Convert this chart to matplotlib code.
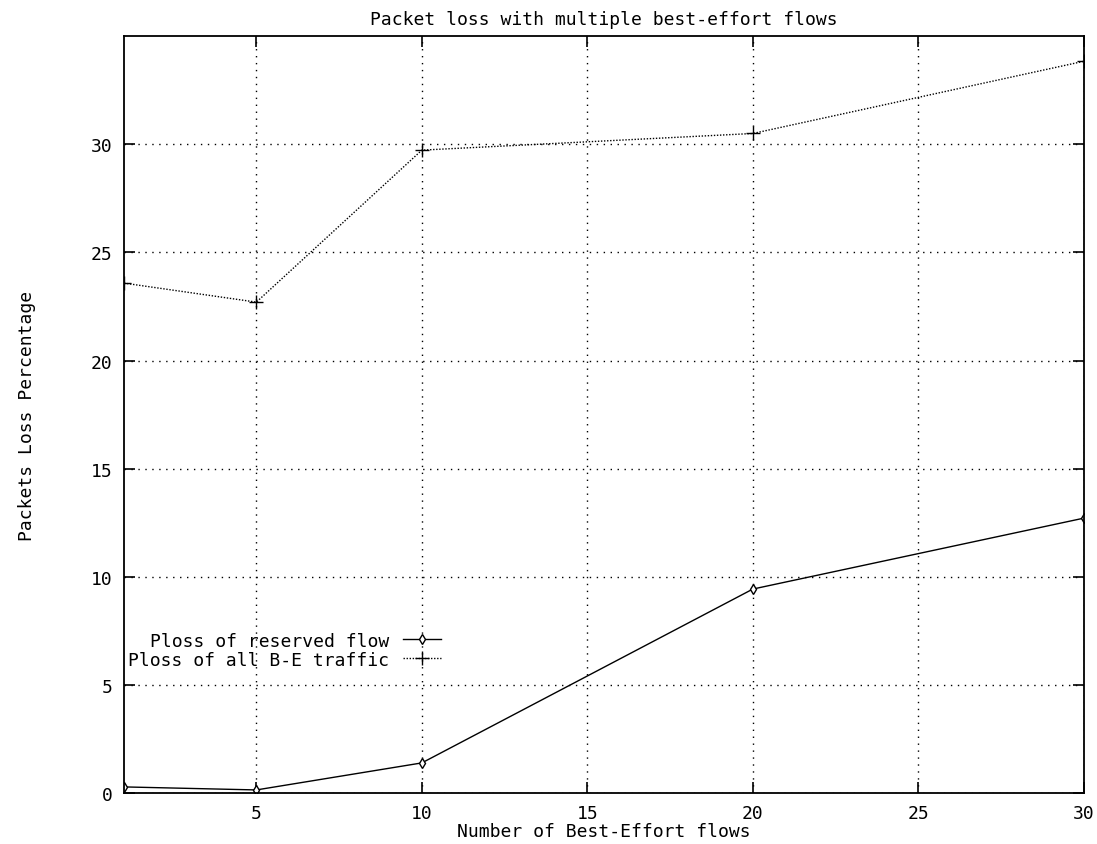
import matplotlib.pyplot as plt

flows = [1, 5, 10, 20, 30]
reserved_loss = [0.28, 0.14, 1.39, 9.43, 12.71]
be_loss = [23.58, 22.70, 29.73, 30.50, 33.84]

xticks = [5, 10, 15, 20, 25, 30]
yticks = [0, 5, 10, 15, 20, 25, 30]

plt.rcParams['font.family'] = 'DejaVu Sans Mono'
plt.rcParams['font.size'] = 13

fig = plt.figure(figsize=(10.97, 8.45), dpi=100)
ax = fig.add_axes([0.113, 0.0604, 0.875, 0.8956])

ax.plot(flows, reserved_loss, color='black', lw=1.0, marker='d', ms=5,
        mfc='white', mew=1.0, label='Ploss of reserved flow')
ax.plot(flows, be_loss, color='black', lw=1.0, ls=(0, (1, 1.2)), marker='+', ms=10,
        mew=1.0, label='Ploss of all B-E traffic')

ax.set_xlim(1, 30)
ax.set_ylim(0, 35)
ax.set_xticks(xticks)
ax.set_yticks(yticks)
ax.tick_params(direction='in', length=8, width=1.2, top=True, right=True, pad=8)
ax.grid(True, color='black', ls=(0, (1, 4)), lw=1.0)
for s in ax.spines.values():
    s.set_linewidth(1.3)

ax.set_title('Packet loss with multiple best-effort flows', fontsize=13, pad=9)
ax.set_xlabel('Number of Best-Effort flows', labelpad=0)
ax.set_ylabel('Packets Loss Percentage', labelpad=40)

ax.legend(loc='upper left', bbox_to_anchor=(0.004, 0.213), frameon=False,
          markerfirst=False, handlelength=2.1, handletextpad=0.8,
          labelspacing=0.05, borderaxespad=0, borderpad=0)

fig.savefig('out.png', dpi=100)
